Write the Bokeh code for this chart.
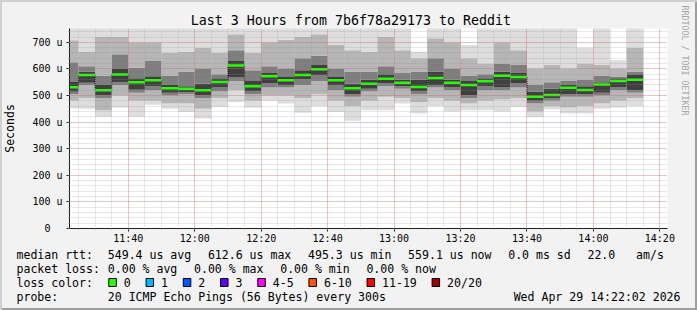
import pandas as pd
from bokeh.plotting import figure
from bokeh.layouts import column
from bokeh.models import (FixedTicker, DatetimeTickFormatter, CustomJSTickFormatter,
                          Title, ColumnDataSource)
from bokeh.core.properties import value
from bokeh.embed import file_html
from bokeh.resources import INLINE

# ---------------- data (microseconds) ----------------
step_start = pd.date_range("2026-04-29 11:20", periods=35, freq="5min")
step_end = step_start + pd.Timedelta(minutes=5)

median_us = [531, 577, 520, 579, 550, 557, 527, 525, 520, 551, 612.6, 535, 572, 557, 577,
             599, 557, 527, 544, 563, 548, 532, 566, 548, 540, 554, 574, 570, 495.3, 502,
             529, 521, 541, 555, 559.1]
ping_max_us = [760, 760, 760, 760, 760, 760, 760, 760, 760, 760, 760, 760, 760, 760, 760,
               760, 760, 760, 760, 760, 760, 665, 760, 760, 690, 760, 760, 760, 760, 760,
               760, 680, 760, 633, 760]
ping_p90_us = [708, 664, 720, 720, 700, 700, 660, 665, 680, 660, 730, 660, 700, 710, 720,
               730, 690, 670, 665, 720, 670, 640, 715, 700, 640, 620, 700, 670, 600, 615,
               600, 620, 615, 600, 680]
ping_p70_us = [625, 610, 575, 655, 605, 630, 575, 590, 600, 580, 670, 595, 610, 600, 640,
               650, 600, 590, 590, 610, 585, 590, 640, 600, 575, 580, 620, 615, 540, 550,
               555, 560, 575, 570, 590]
ping_p60_us = [551, 590, 540, 600, 565, 572, 540, 535, 545, 565, 630, 555, 585, 570, 595,
               615, 570, 545, 560, 580, 560, 560, 590, 560, 555, 565, 590, 585, 515, 525,
               540, 535, 550, 565, 580]
ping_p40_us = [514, 548, 500, 550, 522, 535, 510, 512, 500, 530, 570, 515, 545, 540, 560,
               575, 540, 505, 525, 545, 535, 515, 540, 530, 500, 535, 530, 545, 480, 490,
               505, 505, 510, 530, 520]
ping_p30_us = [505, 540, 490, 540, 510, 520, 500, 505, 490, 515, 555, 505, 530, 530, 540,
               555, 520, 495, 515, 535, 525, 505, 530, 520, 490, 520, 520, 530, 470, 480,
               495, 495, 500, 520, 510]
ping_p10_us = [480, 490, 445, 500, 480, 480, 470, 470, 450, 490, 520, 480, 500, 500, 490,
               505, 480, 460, 480, 495, 490, 475, 490, 480, 470, 480, 485, 490, 440, 460,
               455, 460, 470, 480, 490]
ping_min_us = [451, 450, 420, 455, 420, 465, 450, 438, 414, 457, 476, 455, 480, 470, 435,
               460, 438, 405, 445, 445, 470, 432, 460, 440, 445, 445, 440, 457, 418, 448,
               432, 432, 450, 455, 460]

x_major = pd.date_range("2026-04-29 11:40", "2026-04-29 14:20", freq="20min")
x_minor = pd.date_range("2026-04-29 11:25", "2026-04-29 14:20", freq="5min")
y_major = [0, 100, 200, 300, 400, 500, 600, 700]
y_minor = list(range(0, 760, 20))

title_text = "Last 3 Hours from 7b6f78a29173 to Reddit"
y_title = "Seconds"
watermark = "RRDTOOL / TOBI OETIKER"
rtt_head = "median rtt:"
rtt_stats = ["549.4 us avg", "612.6 us max", "495.3 us min", "559.1 us now", "0.0 ms sd", "22.0   am/s"]
loss_head = "packet loss:"
loss_stats = ["0.00 % avg", "0.00 % max", "0.00 % min", "0.00 % now"]
color_head = "loss color:"
loss_labels = ["0", "1", "2", "3", "4-5", "6-10", "11-19", "20/20"]
loss_colors = ["#26ff00", "#00b8ff", "#0059ff", "#5e00ff", "#ff00ff", "#ff5500", "#ff0000", "#a00000"]
probe_head = "probe:"
probe_text = "20 ICMP Echo Pings (56 Bytes) every 300s"
stamp_text = "Wed Apr 29 14:22:02 2026"

# ---------------- main figure ----------------
FONT = "DejaVu Sans Mono"
LSIZE = "11.55px"
MAIN_H, LEG_H = 248, 62
p = figure(width=697, height=MAIN_H, x_axis_type="datetime",
           x_range=(pd.Timestamp("2026-04-29 11:22:18"), pd.Timestamp("2026-04-29 14:22:18")),
           y_range=(0, 752),
           toolbar_location=None, output_backend="svg",
           min_border_left=67, min_border_right=30, min_border_top=28, min_border_bottom=20,
           background_fill_color="white", border_fill_color=None, outline_line_color=None)

src = ColumnDataSource(dict(l=step_start, r=step_end, med=median_us, mx=ping_max_us,
                            p90=ping_p90_us, p70=ping_p70_us, p60=ping_p60_us, p40=ping_p40_us,
                            p30=ping_p30_us, p10=ping_p10_us, mn=ping_min_us))
bands = [("mn", "p10", "#dddddd"), ("p10", "p30", "#b6b6b6"), ("p30", "p40", "#7e7e7e"),
         ("p40", "p60", "#404040"), ("p60", "p70", "#7e7e7e"), ("p70", "p90", "#b6b6b6"),
         ("p90", "mx", "#dddddd")]
for b, t, c in bands:
    p.quad(left="l", right="r", bottom=b, top=t, source=src, fill_color=c, line_color=None)

p.segment(x0=list(step_end[:-1]), x1=list(step_end[:-1]), y0=median_us[:-1], y1=median_us[1:],
          line_color="black", line_width=1, line_dash="1 1")
p.segment(x0="l", x1="r", y0="med", y1="med", source=src, line_color=loss_colors[0],
          line_width=2.5)

p.xaxis.ticker = FixedTicker(ticks=[t.value / 1e6 for t in x_major],
                             minor_ticks=[t.value / 1e6 for t in x_minor])
fmt = "%H:%M"
p.xaxis.formatter = DatetimeTickFormatter(milliseconds=fmt, seconds=fmt, minsec=fmt, minutes=fmt,
                                          hourmin=fmt, hours=fmt, days=fmt)
p.yaxis.ticker = FixedTicker(ticks=y_major, minor_ticks=y_minor)
p.yaxis.formatter = CustomJSTickFormatter(
    code="return tick == 0 ? '0\\u00a0\\u00a0' : tick.toFixed(0) + '\\u00a0u';")
for ax in (p.xaxis[0], p.yaxis[0]):
    ax.axis_line_color = "#1f1f1f"
    ax.major_tick_line_color = "#1f1f1f"
    ax.major_tick_out = 3
    ax.major_tick_in = 0
    ax.minor_tick_line_color = "#8f8f8f"
    ax.minor_tick_out = 1
    ax.minor_tick_in = 0
    ax.major_label_text_font = FONT
    ax.major_label_text_font_size = "10px"
    ax.major_label_text_color = "black"
p.xaxis.major_label_standoff = 1
p.yaxis.major_label_standoff = 4
p.yaxis.axis_label = y_title
p.yaxis.axis_label_text_font = FONT
p.yaxis.axis_label_text_font_size = LSIZE
p.yaxis.axis_label_text_font_style = "normal"
p.yaxis.axis_label_text_color = "black"
p.yaxis.axis_label_standoff = 12

for g in (p.xgrid[0], p.ygrid[0]):
    g.grid_line_color = "#de4f4f"
    g.grid_line_alpha = 0.45
    g.grid_line_dash = "1 1"
    g.minor_grid_line_color = "#8f8f8f"
    g.minor_grid_line_alpha = 0.42
    g.minor_grid_line_dash = "1 1"
    g.level = "glyph"

p.add_layout(Title(text=title_text, align="left", offset=121.3, vertical_align="bottom",
                   standoff=1, text_font=FONT, text_font_size="13.3px",
                   text_font_style="normal", text_color="black"), "above")
# spacer pushes the watermark towards the right edge
p.add_layout(Title(text="\u00a0", standoff=0, text_font=FONT, text_font_size="7px"), "right")
p.add_layout(Title(text=watermark, align="left", offset=-23, vertical_align="top",
                   standoff=0, text_font=FONT, text_font_size="8.3px",
                   text_font_style="normal", text_color="#a6a6a6"), "right")

# ---------------- legend strip ----------------
CW, GAP = 6.95, 16.7
X0, X1 = 16, 107.3
rows_y = [6, 20, 34, 48]

tx, ty, tt = [], [], []
def put(text, x, y):
    tx.append(x); ty.append(y); tt.append(text.replace(" ", "\u00a0"))

put(rtt_head, X0, rows_y[0])
x = X1
for s in rtt_stats:
    put(s, x, rows_y[0]); x += len(s) * CW + GAP
put(loss_head, X0, rows_y[1])
x = X1
for s in loss_stats:
    put(s, x, rows_y[1]); x += len(s) * CW + GAP
put(color_head, X0, rows_y[2])
bl, br = [], []
x = X1 + 1
for lab in loss_labels:
    bl.append(x); br.append(x + 7.5)
    put(lab, x + 15, rows_y[2])
    x += 15 + len(lab) * CW + 15.3
put(probe_head, X0, rows_y[3])
put(probe_text, X1, rows_y[3])

p2 = figure(width=697, height=LEG_H, x_range=(0, 697), y_range=(LEG_H, 0),
            toolbar_location=None, output_backend="svg", min_border=0,
            x_axis_location=None, y_axis_location=None,
            background_fill_color=None, border_fill_color=None, outline_line_color=None)
p2.grid.visible = False
for fig in (p, p2):
    try:
        fig.frame_align = False
    except Exception:
        pass
p2.text(x=tx, y=ty, text=tt, text_font=value(FONT), text_font_size=value(LSIZE),
        text_baseline="middle", text_align="left", text_color="black")
p2.text(x=[680], y=[rows_y[3]], text=[stamp_text.replace(" ", "\u00a0")], text_font=value(FONT),
        text_font_size=value(LSIZE), text_baseline="middle", text_align="right",
        text_color="black")
p2.quad(left=bl, right=br, top=[rows_y[2] - 4] * len(bl), bottom=[rows_y[2] + 4] * len(bl),
        fill_color=loss_colors, line_color="black", line_width=1)

layout = column(p, p2, spacing=0,
                styles={"background-color": "#f2f2f2",
                        "box-shadow": "inset 2px 2px 0 #cfcfcf, inset -2px -2px 0 #9e9e9e"})

open("out.html", "w").write(file_html(layout, INLINE))
